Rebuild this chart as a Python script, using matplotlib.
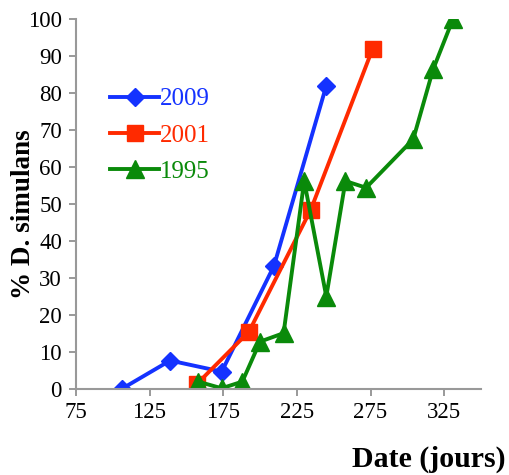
import matplotlib
matplotlib.use("Agg")
from matplotlib import pyplot as plt

plt.rcParams['font.family'] = ['Liberation Serif', 'DejaVu Serif']

# % D. simulans by day of year, per sampling year
x_2009 = [106, 139, 174, 209.5, 245]
y_2009 = [0, 7.7, 4.7, 33.3, 82]
x_2001 = [157, 192.5, 234.5, 276.5]
y_2001 = [1.3, 15.5, 48.5, 92]
x_1995 = [158, 174, 188, 200, 216, 230, 245, 258, 272, 304, 317.5, 331]
y_1995 = [2, 0.2, 2, 12.8, 15.1, 56.2, 25, 56.2, 54.4, 67.5, 86.4, 100]

x_ticks = [75, 125, 175, 225, 275, 325]
y_ticks = list(range(0, 101, 10))

blue = '#1432ff'
red = '#ff2a00'
green = '#0a8a0a'

fig = plt.figure(figsize=(5.09, 4.75), dpi=100)
ax = fig.add_axes([0.149, 0.181, 0.796, 0.779])

ax.plot(x_2009, y_2009, color=blue, lw=2.8, marker='D', ms=9.5, label='2009')
ax.plot(x_2001, y_2001, color=red, lw=2.8, marker='s', ms=11.5, label='2001')
ax.plot(x_1995, y_1995, color=green, lw=2.8, marker='^', ms=12.5, label='1995')

ax.set_xlim(75, 350)
ax.set_ylim(0, 100)
ax.set_xticks(x_ticks)
ax.set_yticks(y_ticks)
ax.tick_params(labelsize=16.5, color='#888888', length=5, width=1.2, pad=5)
ax.tick_params(axis='x', pad=4)

for side in ['top', 'right']:
    ax.spines[side].set_visible(False)
for side in ['left', 'bottom']:
    ax.spines[side].set_color('#999999')
    ax.spines[side].set_linewidth(1.5)

leg = ax.legend(loc='upper left', bbox_to_anchor=(0.03, 0.875), frameon=False,
                fontsize=18, handlelength=1.95, handletextpad=0.02, labelspacing=0.55)
for txt, c in zip(leg.get_texts(), [blue, red, green]):
    txt.set_color(c)

fig.text(0.046, 0.55, '% D. simulans', rotation=90, ha='center', va='center',
         fontsize=19.5, fontweight='bold')
fig.text(0.842, 0.032, 'Date (jours)', ha='center', va='center',
         fontsize=21.5, fontweight='bold')

fig.savefig('out.png', dpi=100)
